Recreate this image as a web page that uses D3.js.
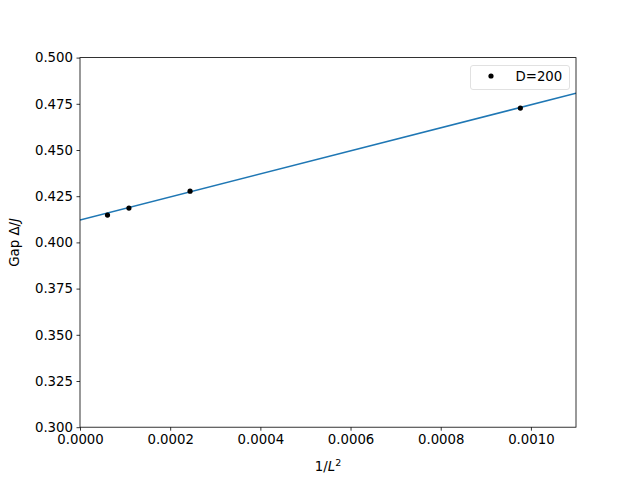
<!DOCTYPE html>
<html lang="en">
<head>
    <script src="https://d3js.org/d3.v7.min.js"></script>
    <style>
        body { margin: 0; background: #fff; }
        text { font-family: "DejaVu Sans", sans-serif; }
    </style>
</head>
<body>
<script>
    // data
    const invL2 = [0.0000610, 0.0001085, 0.0002441, 0.0009766];
    const gap = [0.4148, 0.4186, 0.4277, 0.4727];
    const fitX = [0, 0.0011];
    const fitY = [0.4121, 0.4807];
    const xTicks = [0, 0.0002, 0.0004, 0.0006, 0.0008, 0.0010];
    const yTicks = [0.300, 0.325, 0.350, 0.375, 0.400, 0.425, 0.450, 0.475, 0.500];
    const seriesName = "D=200";

    const margin = {top: 57.6, right: 64, bottom: 52.8, left: 80};
    const W = 640, H = 480;
    const width = W - margin.left - margin.right;
    const height = H - margin.top - margin.bottom;

    const svg = d3.select("body").append("svg")
        .attr("width", W)
        .attr("height", H);

    const g = svg.append("g")
        .attr("transform", "translate(" + margin.left + "," + margin.top + ")");

    const x = d3.scaleLinear().domain([0, 0.0011]).range([0, width]);
    const y = d3.scaleLinear().domain([0.3, 0.5]).range([height, 0]);

    const clip = g.append("clipPath").attr("id", "clip")
        .append("rect").attr("width", width).attr("height", height);

    // fit line
    g.append("path")
        .datum(fitX.map(function(d, i) { return [d, fitY[i]]; }))
        .attr("clip-path", "url(#clip)")
        .attr("fill", "none")
        .attr("stroke", "#1f77b4")
        .attr("stroke-width", 1.5)
        .attr("d", d3.line()
            .x(function(d) { return x(d[0]); })
            .y(function(d) { return y(d[1]); }));

    // points
    g.selectAll(".pt")
        .data(invL2.map(function(d, i) { return [d, gap[i]]; }))
        .enter().append("circle")
        .attr("class", "pt")
        .attr("cx", function(d) { return x(d[0]); })
        .attr("cy", function(d) { return y(d[1]); })
        .attr("r", 2.6)
        .attr("fill", "#000");

    // axes
    const xAxis = g.append("g")
        .attr("transform", "translate(0," + height + ")")
        .call(d3.axisBottom(x).tickValues(xTicks).tickSize(3.5).tickPadding(3.5)
            .tickFormat(d3.format(".4f")));
    const yAxis = g.append("g")
        .call(d3.axisLeft(y).tickValues(yTicks).tickSize(3.5).tickPadding(3.5)
            .tickFormat(d3.format(".3f")));

    [xAxis, yAxis].forEach(function(a) {
        a.select(".domain").remove();
        a.selectAll(".tick line").attr("stroke", "#000").attr("stroke-width", 0.8);
        a.selectAll(".tick text")
            .attr("fill", "#000")
            .style("font-family", "DejaVu Sans")
            .style("font-size", "13.3px");
    });

    // frame
    g.append("rect")
        .attr("width", width)
        .attr("height", height)
        .attr("fill", "none")
        .attr("stroke", "#000")
        .attr("stroke-width", 0.8);

    // axis labels
    const xl = svg.append("text")
        .attr("x", margin.left + width / 2)
        .attr("y", 471)
        .attr("text-anchor", "middle")
        .style("font-size", "13.3px");
    xl.append("tspan").text("1/");
    xl.append("tspan").attr("font-style", "italic").text("L");
    xl.append("tspan").attr("dy", -5).style("font-size", "9.5px").text("2");

    const yl = svg.append("text")
        .attr("transform", "translate(19," + (margin.top + height / 2) + ") rotate(-90)")
        .attr("text-anchor", "middle")
        .style("font-size", "13.3px");
    yl.append("tspan").text("Gap Δ/");
    yl.append("tspan").attr("font-style", "italic").text("J");

    // legend
    const lg = svg.append("g").attr("transform", "translate(470.5,65.5)");
    lg.append("rect")
        .attr("width", 99)
        .attr("height", 24)
        .attr("rx", 2.5)
        .attr("fill", "#fff")
        .attr("fill-opacity", 0.8)
        .attr("stroke", "#d9d9d9")
        .attr("stroke-width", 0.8);
    lg.append("circle")
        .attr("cx", 20.5)
        .attr("cy", 10.5)
        .attr("r", 2.6)
        .attr("fill", "#000");
    lg.append("text")
        .attr("x", 45)
        .attr("y", 15.5)
        .style("font-size", "13.3px")
        .text(seriesName);
</script>
</body>
</html>
